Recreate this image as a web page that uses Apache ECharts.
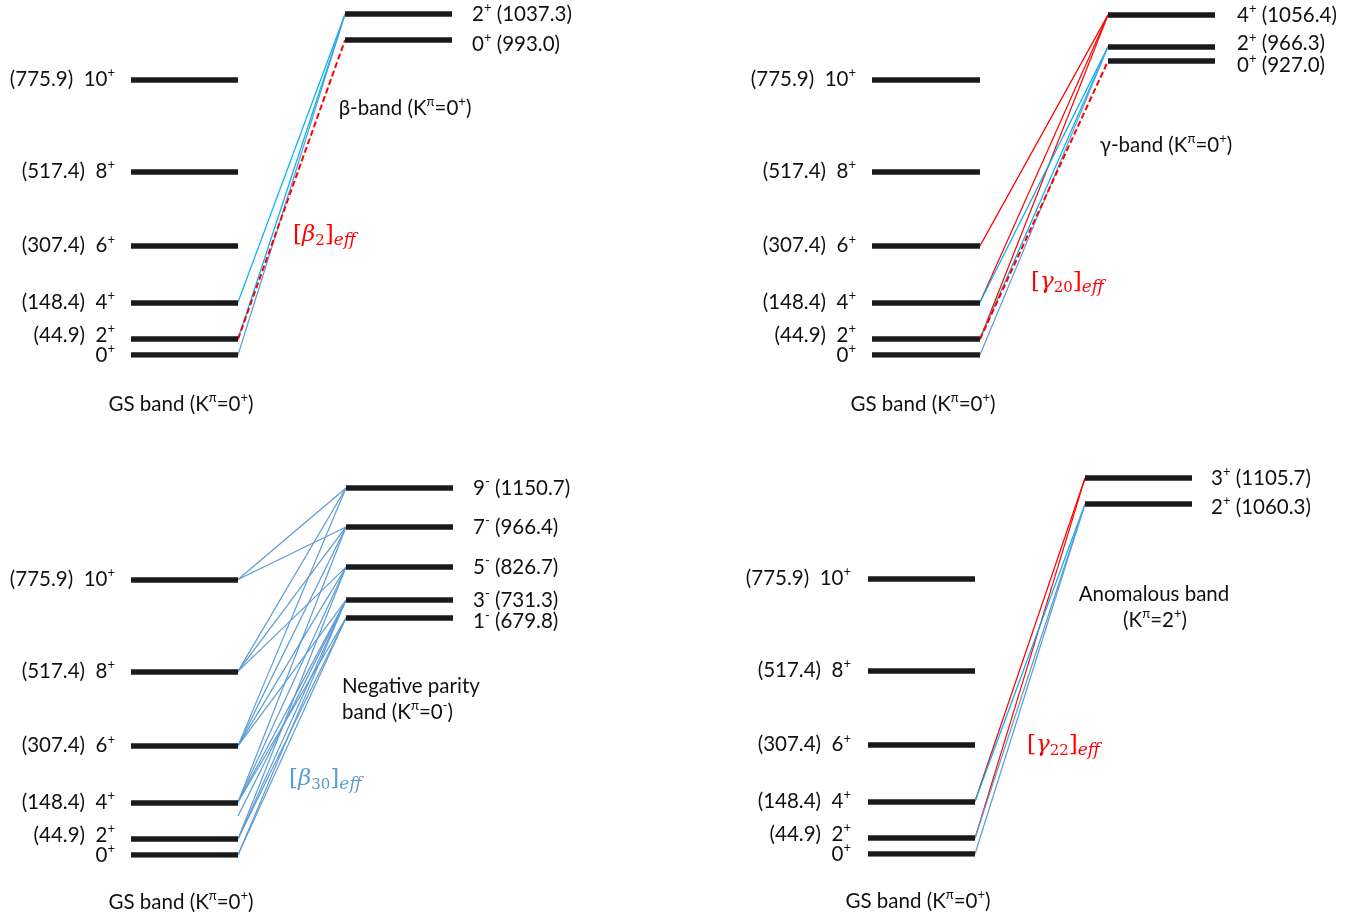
<!DOCTYPE html>
<html><head><meta charset="utf-8">
<script src="https://cdn.jsdelivr.net/npm/echarts@6/dist/echarts.min.js"></script>
<style>html,body{margin:0;padding:0;background:#fff}#c{width:1370px;height:920px}</style>
</head><body><div id="c"></div>
<script>
// ---------------- data ----------------
const gsSpins = ['0', '2', '4', '6', '8', '10'];
const gsEnergies = [0, 44.9, 148.4, 307.4, 517.4, 775.9];

const betaSpins = ['2', '0'];
const betaEnergies = [1037.3, 993.0];
const betaDrawnAt = [960, 887];          // schematic height (keV scale) at which each level is drawn
const betaTransitions = [['4', '2', 'cyan'], ['2', '2', 'cyan'], ['0', '2', 'blue'], ['2', '0', 'redDash']];

const gammaSpins = ['4', '2', '0'];
const gammaEnergies = [1056.4, 966.3, 927.0];
const gammaDrawnAt = [958, 868, 828];
const gammaTransitions = [['6', '4', 'red'], ['4', '4', 'red'], ['2', '4', 'red'], ['4', '2', 'cyan'], ['2', '2', 'cyan'], ['0', '2', 'blue'], ['2', '0', 'redDash']];

const negSpins = ['9', '7', '5', '3', '1'];
const negEnergies = [1150.7, 966.4, 826.7, 731.3, 679.8];
const negDrawnAt = [1034, 924, 811, 718, 668];
const negTransitions = [
  ['10', '9', 'blue'], ['10', '7', 'blue'],
  ['8', '9', 'blue'], ['8', '7', 'blue'], ['8', '5', 'blue'],
  ['6', '9', 'blue'], ['6', '7', 'blue'], ['6', '5', 'blue'], ['6', '3', 'blue'],
  ['4', '7', 'blue'], ['4', '5', 'blue'], ['4', '3', 'blue'], ['4', '1', 'blue'],
  ['2', '5', 'blue'], ['2', '3', 'blue'], ['2', '1', 'blue'],
  ['0', '3', 'blue'], ['0', '1', 'blue'],
  [110, '3', 'blue']                    // stray line ending between 4+ and 2+
];

const anomSpins = ['3', '2'];
const anomEnergies = [1105.7, 1060.3];
const anomDrawnAt = [1059, 986];
const anomTransitions = [['4', '3', 'red'], ['2', '3', 'red'], ['4', '2', 'cyan'], ['2', '2', 'blue'], ['0', '2', 'blue']];

// ---------------- styles / layout ----------------
const FONT = 'Lato, "Noto Sans", sans-serif';
const SERIF = '"DejaVu Serif", "Liberation Serif", serif';
const TXT = '#111111';
const FS = 20.5;
const lineStyles = {
  cyan: { color: '#00b0f0', width: 1.2, type: 'solid' },
  blue: { color: '#5b9bd5', width: 1.2, type: 'solid' },
  red: { color: '#ff0000', width: 1.2, type: 'solid' },
  redDash: { color: '#ff0000', width: 2, type: [6, 3] }
};
const PX_PER_KEV = 0.355;

const panels = [
  { gsLeft: 131, gsRight: 238, bandLeft: 345, bandRight: 452, zeroY: 355, topY: 0, parity: '+',
    spins: betaSpins, energies: betaEnergies, drawn: betaDrawnAt, trans: betaTransitions,
    gsDist: 16, bandDist: 20, gsNudge: { '2': -4 }, bandNudge: { '0': 4 } },
  { gsLeft: 872, gsRight: 980, bandLeft: 1108, bandRight: 1215, zeroY: 355, topY: 0, parity: '+',
    spins: gammaSpins, energies: gammaEnergies, drawn: gammaDrawnAt, trans: gammaTransitions,
    gsDist: 16, bandDist: 22, gsNudge: { '2': -4 }, bandNudge: { '2': -3, '0': 4 } },
  { gsLeft: 131, gsRight: 238, bandLeft: 346, bandRight: 453, zeroY: 855, topY: 450, parity: '-',
    spins: negSpins, energies: negEnergies, drawn: negDrawnAt, trans: negTransitions,
    gsDist: 16, bandDist: 20, gsNudge: { '2': -4 }, bandNudge: { '1': 4 } },
  { gsLeft: 868, gsRight: 975, bandLeft: 1085, bandRight: 1192, zeroY: 854, topY: 450, parity: '+',
    spins: anomSpins, energies: anomEnergies, drawn: anomDrawnAt, trans: anomTransitions,
    gsDist: 17, bandDist: 19, gsNudge: { '2': -4 }, bandNudge: { '2': 3 } }
];

const richSans = {
  t: { fontSize: FS, fontFamily: FONT, color: TXT, fill: TXT, lineHeight: 26, textBorderWidth: 0 },
  p: { fontSize: 13, fontFamily: FONT, color: TXT, fill: TXT, lineHeight: 15, verticalAlign: 'top', textBorderWidth: 0 }
};
function sup(s) { return '{p|' + s + '}'; }

const grid = [], xAxis = [], yAxis = [], series = [];

panels.forEach((p, i) => {
  const w = p.bandRight - p.gsLeft;
  const h = p.zeroY - p.topY;
  const gsW = p.gsRight - p.gsLeft, bL = p.bandLeft - p.gsLeft, bR = p.bandRight - p.gsLeft;
  grid.push({ left: p.gsLeft, top: p.topY, width: w, height: h });
  xAxis.push({ gridIndex: i, type: 'value', min: 0, max: w, show: false });
  yAxis.push({ gridIndex: i, type: 'value', min: 0, max: h / PX_PER_KEV, show: false });

  const gsE = s => gsEnergies[gsSpins.indexOf(s)];
  const bandD = s => p.drawn[p.spins.indexOf(s)];

  // transitions
  series.push({
    type: 'lines', coordinateSystem: 'cartesian2d', xAxisIndex: i, yAxisIndex: i,
    polyline: false, z: 2, silent: true,
    data: p.trans.map(t => ({
      coords: [[gsW, typeof t[0] === 'number' ? t[0] : gsE(t[0])], [bL, bandD(t[1])]],
      lineStyle: Object.assign({ opacity: 1, cap: 'butt' }, lineStyles[t[2]])
    }))
  });
  // level bars
  const bars = gsEnergies.map(e => ({ coords: [[0, e], [gsW, e]] }))
    .concat(p.drawn.map(d => ({ coords: [[bL, d], [bR, d]] })));
  series.push({
    type: 'lines', coordinateSystem: 'cartesian2d', xAxisIndex: i, yAxisIndex: i,
    polyline: false, z: 3, silent: true,
    lineStyle: { color: '#1a1a1a', width: 5.5, opacity: 1, cap: 'butt' },
    data: bars
  });
  const labelBase = { show: true, rich: richSans, color: TXT, opacity: 1, textBorderWidth: 0, fontSize: FS, fontFamily: FONT };
  // GS labels
  series.push({
    type: 'scatter', xAxisIndex: i, yAxisIndex: i, symbolSize: 0, silent: true, z: 4,
    itemStyle: { opacity: 1 },
    data: gsEnergies.map((e, k) => ({
      value: [0, e],
      label: Object.assign({}, labelBase, {
        position: 'left', distance: p.gsDist,
        offset: [0, p.gsNudge[gsSpins[k]] || 0],
        formatter: '{t|' + (e === 0 ? '' : '(' + e.toFixed(1) + ')  ') + gsSpins[k] + '}' + sup('+')
      })
    }))
  });
  // band labels
  series.push({
    type: 'scatter', xAxisIndex: i, yAxisIndex: i, symbolSize: 0, silent: true, z: 4,
    itemStyle: { opacity: 1 },
    data: p.drawn.map((d, k) => ({
      value: [bR, d],
      label: Object.assign({}, labelBase, {
        position: 'right', distance: p.bandDist,
        offset: [0, p.bandNudge[p.spins[k]] || 0],
        formatter: '{t|' + p.spins[k] + '}' + sup(p.parity) + '{t| (' + p.energies[k].toFixed(1) + ')}'
      })
    }))
  });
});

// ---------------- annotations ----------------
function sansText(x, y, text, align) {
  return { type: 'text', x: x, y: y, z: 10, silent: true,
    style: { text: text, rich: richSans, align: align || 'center', verticalAlign: 'middle',
      fontSize: FS, fontFamily: FONT, fill: TXT } };
}
function mathText(x, y, greek, sub, color) {
  const rich = {
    u: { fontSize: 23, fontFamily: SERIF, fill: color, color: color, lineHeight: 28 },
    i: { fontSize: 23, fontFamily: SERIF, fontStyle: 'italic', fill: color, color: color, lineHeight: 28 },
    s: { fontSize: 15, fontFamily: SERIF, fill: color, color: color, lineHeight: 14, verticalAlign: 'bottom' },
    si: { fontSize: 17, fontFamily: SERIF, fontStyle: 'italic', fill: color, color: color, lineHeight: 11, verticalAlign: 'bottom' }
  };
  return { type: 'text', x: x, y: y, z: 10, silent: true,
    style: { text: '{u|[}{i|' + greek + '}{s|' + sub + '}{u|]}{si|eff}', rich: rich,
      align: 'left', verticalAlign: 'middle', fill: color } };
}
const K0p = 'K' + sup('π') + '{t|=0}' + sup('+');
const graphic = [
  sansText(181, 404, '{t|GS band (}' + K0p + '{t|)}'),
  sansText(923, 404, '{t|GS band (}' + K0p + '{t|)}'),
  sansText(181, 902, '{t|GS band (}' + K0p + '{t|)}'),
  sansText(918, 901, '{t|GS band (}' + K0p + '{t|)}'),
  sansText(405, 108, '{t|β-band (K}' + sup('π') + '{t|=0}' + sup('+') + '{t|)}'),
  sansText(1166, 145, '{t|γ-band (K}' + sup('π') + '{t|=0}' + sup('+') + '{t|)}'),
  sansText(342, 686, '{t|Negative parity}', 'left'),
  sansText(342, 712, '{t|band (K}' + sup('π') + '{t|=0}' + sup('-') + '{t|)}', 'left'),
  sansText(1154, 594, '{t|Anomalous band}'),
  sansText(1155, 620, '{t|(K}' + sup('π') + '{t|=2}' + sup('+') + '{t|)}'),
  mathText(293, 235, 'β', '2', '#ff0000'),
  mathText(1031, 282, 'γ', '20', '#ff0000'),
  mathText(289, 779, 'β', '30', '#5b9bd5'),
  mathText(1027, 745, 'γ', '22', '#ff0000')
];

const chart = echarts.init(document.getElementById('c'), null, { renderer: 'canvas' });
chart.setOption({
  animation: false,
  backgroundColor: '#ffffff',
  grid: grid, xAxis: xAxis, yAxis: yAxis, series: series, graphic: graphic
});
</script></body></html>
